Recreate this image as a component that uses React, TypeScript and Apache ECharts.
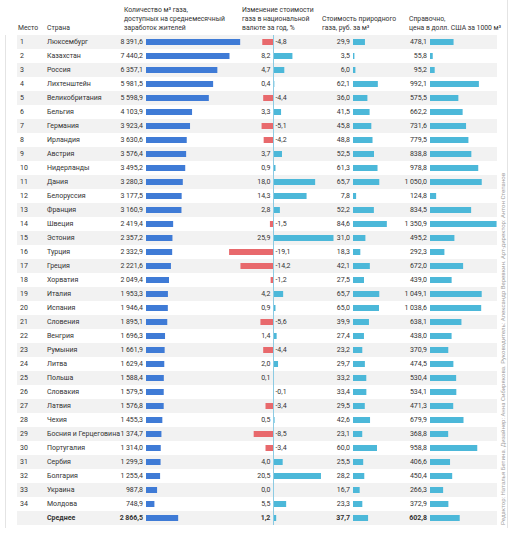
import React, { useEffect, useRef } from "react";
import * as echarts from "echarts";

const ranks = ["1","2","3","4","5","6","7","8","9","10","11","12","13","14","15","16","17","18","19","20","21","22","23","24","25","26","27","28","29","30","31","32","33","34",""];
const countries = ["Люксембург","Казахстан","Россия","Лихтенштейн","Великобритания","Бельгия","Германия","Ирландия","Австрия","Нидерланды","Дания","Белоруссия","Франция","Швеция","Эстония","Турция","Греция","Хорватия","Италия","Испания","Словения","Венгрия","Румыния","Литва","Польша","Словакия","Латвия","Чехия","Босния и Герцеговина","Португалия","Сербия","Болгария","Украина","Молдова","Среднее"];
const gasVolume = [8391.6,7440.2,6357.1,5981.5,5598.9,4103.9,3923.4,3630.6,3576.4,3495.2,3280.3,3177.5,3160.9,2419.4,2357.2,2332.9,2221.6,2049.4,1953.3,1946.4,1895.1,1696.3,1661.9,1629.4,1588.4,1579.5,1576.8,1455.3,1374.7,1314.0,1299.3,1255.4,987.8,748.9,2866.5];
const priceChange = [-4.8,8.2,4.7,0.4,-4.4,3.3,-5.1,-4.2,3.7,0.9,18.0,14.3,2.8,-1.5,25.9,-19.1,-14.2,-1.2,4.2,0.9,-5.6,1.4,-4.4,2.0,0.1,-0.1,-3.4,0.5,-8.5,-3.4,4.0,20.5,0.0,5.5,1.2];
const priceRub = [29.9,3.5,6.0,62.1,36.0,41.5,45.8,48.8,52.5,61.3,65.7,7.8,52.2,84.6,31.0,18.3,42.1,27.5,65.7,65.0,39.9,27.4,23.2,29.7,33.2,33.4,29.5,42.6,23.1,60.0,25.5,28.2,16.7,23.3,37.7];
const priceUsd = [478.1,55.8,95.2,992.1,575.5,662.2,731.6,779.5,838.8,978.8,1050.0,124.8,834.5,1350.9,495.2,292.3,672.0,439.0,1049.1,1038.6,638.1,438.0,370.9,474.5,530.4,534.1,471.3,679.9,368.8,958.8,406.6,450.4,266.3,372.9,602.8];

const headers = {
  rank: ["Место"],
  country: ["Страна"],
  volume: ["Количество м³ газа,", "доступных на среднемесячный", "заработок жителей"],
  change: ["Изменение стоимости", "газа в национальной", "валюте за год, %"],
  rub: ["Стоимость природного", "газа, руб. за м³"],
  usd: ["Справочно,", "цена в долл. США за 1000 м³"],
};
const credits = "Редактор: Наталья Бетина. Дизайнер: Анна Сибирякова. Руководитель: Александр Веревкин. Арт-директор: Антон Степанов";

const FONT = 'Roboto, sans-serif';
const FS = 7;
const TEXT = "#333333";
const BLUE = "#3f7bd6";
const RED = "#e8696c";
const CYAN = "#4cb8d9";

const fmt = (v: number) => {
  const s = Math.abs(v).toFixed(1);
  const [i, d] = s.split(".");
  const ii = i.replace(/\B(?=(\d{3})+(?!\d))/g, "\u2009");
  return (v < 0 ? "-" : "") + ii + "," + d;
};

export default function App() {
  const ref = useRef<HTMLDivElement>(null);
  useEffect(() => {
    document.body.style.margin = "0";
    if (!ref.current) return;
    const chart = echarts.init(ref.current, null, { renderer: "svg" });
    const top = 35;
    const height = 490;
    const n = countries.length;
    const last = n - 1;
    const cats = countries.map((_, i) => String(i));

    const grids = [
      { left: 17, width: 480, top, height }, // background + text columns
      { left: 146, width: 101, top, height }, // volume 0..9000
      { left: 227, width: 116, top, height }, // change -20..30
      { left: 353, width: 40, top, height }, // rub 0..100
      { left: 430, width: 69, top, height }, // usd 0..1400
    ];
    const xRanges = [[0, 1], [0, 9000], [-20, 30], [0, 100], [0, 1400]];
    const xAxis = xRanges.map((r, i) => ({
      type: "value", gridIndex: i, min: r[0], max: r[1], show: false,
    }));
    const yAxis = grids.map((_, i) => ({
      type: "category",
      gridIndex: i,
      inverse: true,
      data: cats,
      show: i === 0,
      axisLine: { show: false },
      axisTick: { show: false, interval: 0 },
      axisLabel: { show: false, interval: 0 },
      splitLine: { show: false },
      splitArea: i === 0 ? { show: true, interval: 0, areaStyle: { color: ["#f2f2f2", "#ffffff"] } } : { show: false },
    }));

    const lbl = { show: true, fontSize: FS, fontFamily: FONT, color: TEXT, distance: 3 };
    const simpleData = (arr: number[]) => arr.map((v, i) => ({
      value: v,
      label: i === last ? { fontWeight: "bold" } : {},
    }));

    const series: any[] = [
      {
        type: "bar", xAxisIndex: 0, yAxisIndex: 0, barWidth: 1,
        itemStyle: { color: "rgba(0,0,0,0)" },
        label: {
          show: true, position: "right", distance: 3,
          formatter: (p: any) => {
            const k = p.dataIndex;
            return k === last
              ? `{r|${ranks[k]}}{b|${countries[k]}}`
              : `{r|${ranks[k]}}{c|${countries[k]}}`;
          },
          rich: {
            r: { width: 27, fontSize: FS, fontFamily: FONT, color: TEXT },
            c: { fontSize: FS, fontFamily: FONT, color: TEXT },
            b: { fontSize: FS, fontFamily: FONT, color: TEXT, fontWeight: "bold" },
          },
        },
        data: countries.map(() => 0),
      },
      {
        type: "bar", xAxisIndex: 1, yAxisIndex: 1, barWidth: 6,
        itemStyle: { color: BLUE },
        label: { ...lbl, position: "left", formatter: (p: any) => fmt(p.value) },
        data: simpleData(gasVolume),
      },
      {
        type: "bar", xAxisIndex: 2, yAxisIndex: 2, barWidth: 6,
        label: { ...lbl, formatter: (p: any) => fmt(p.value) },
        data: priceChange.map((v, i) => ({
          value: v,
          itemStyle: { color: v < 0 ? RED : CYAN },
          label: { position: v < 0 ? "right" : "left", distance: v < 0 ? 2 : 3, fontWeight: i === last ? "bold" : "normal" },
        })),
        markLine: {
          silent: true, symbol: "none", label: { show: false },
          lineStyle: { color: "#8ccbe3", width: 1, type: "solid" },
          data: [{ xAxis: 0 }],
        },
      },
      {
        type: "bar", xAxisIndex: 3, yAxisIndex: 3, barWidth: 6,
        itemStyle: { color: CYAN },
        label: { ...lbl, position: "left", formatter: (p: any) => fmt(p.value) },
        data: simpleData(priceRub),
      },
      {
        type: "bar", xAxisIndex: 4, yAxisIndex: 4, barWidth: 6,
        itemStyle: { color: CYAN },
        label: { ...lbl, position: "left", formatter: (p: any) => fmt(p.value) },
        data: simpleData(priceUsd),
      },
    ];

    const headText = (lines: string[], x: number, bottomY: number) =>
      lines.map((t, i) => ({
        type: "text",
        x,
        y: bottomY - (lines.length - 1 - i) * 9,
        style: { text: t, fill: TEXT, fontSize: 6.8, fontFamily: FONT, textAlign: "left", textVerticalAlign: "middle" },
      }));

    const graphic: any[] = [
      ...headText(headers.rank, 18, 28),
      ...headText(headers.country, 47, 28),
      ...headText(headers.volume, 124, 28),
      ...headText(headers.change, 242, 28),
      ...headText(headers.rub, 322, 28),
      ...headText(headers.usd, 409, 28),
      {
        type: "line", shape: { x1: 5.5, y1: 35, x2: 5.5, y2: 528 },
        style: { stroke: "#e4e4e4", lineWidth: 1 },
      },
      {
        type: "line", shape: { x1: 507.5, y1: 0, x2: 507.5, y2: 528 },
        style: { stroke: "#e4e4e4", lineWidth: 1 },
      },
      {
        type: "text", x: 502, y: 525, rotation: Math.PI / 2,
        style: { text: credits, fill: "#a0a0a0", fontSize: 6, fontFamily: FONT, textAlign: "left", textVerticalAlign: "middle" },
      },
    ];

    chart.setOption({
      animation: false,
      backgroundColor: "#ffffff",
      textStyle: { fontFamily: FONT },
      grid: grids,
      xAxis,
      yAxis,
      series,
      graphic,
    } as any);
    return () => chart.dispose();
  }, []);
  return <div ref={ref} style={{ width: 512, height: 533 }} />;
}
